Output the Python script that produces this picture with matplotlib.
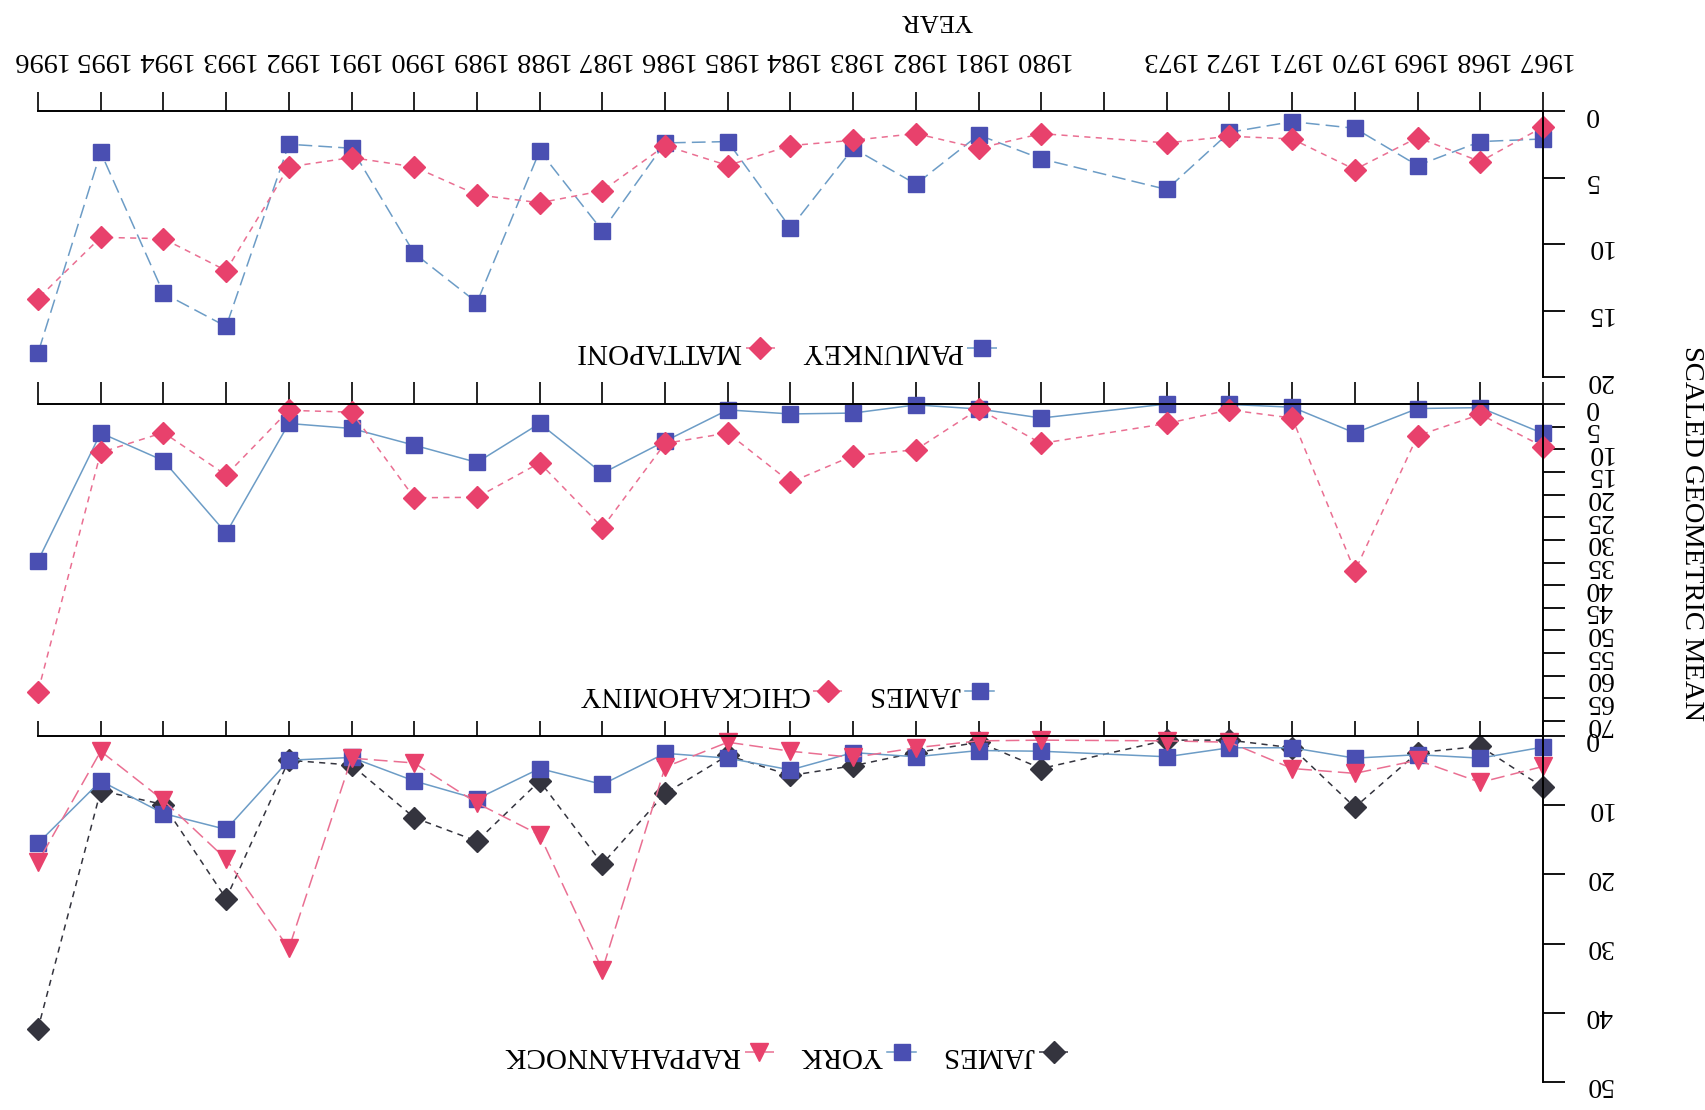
import matplotlib
matplotlib.use("Agg")
import matplotlib.pyplot as plt

plt.rcParams['font.family'] = ['Liberation Serif', 'DejaVu Serif']

# Axis slots: 1967-1973, one empty slot, then 1980-1996
year_slots = ['1967', '1968', '1969', '1970', '1971', '1972', '1973', '',
              '1980', '1981', '1982', '1983', '1984', '1985', '1986', '1987',
              '1988', '1989', '1990', '1991', '1992', '1993', '1994', '1995', '1996']

years = [1967, 1968, 1969, 1970, 1971, 1972, 1973,
         1980, 1981, 1982, 1983, 1984, 1985, 1986, 1987, 1988,
         1989, 1990, 1991, 1992, 1993, 1994, 1995, 1996]

# Panel 1
pamunkey = [2.1, 2.3, 4.1, 1.3, 0.8, 1.6, 5.9,
            3.6, 1.8, 5.5, 2.8, 8.8, 2.3, 2.4, 9.0, 3.0,
            14.4, 10.7, 2.8, 2.5, 16.2, 13.7, 3.1, 18.2]
mattaponi = [1.2, 3.8, 2.0, 4.4, 2.1, 1.9, 2.4,
             1.7, 2.8, 1.7, 2.2, 2.6, 4.1, 2.6, 6.0, 6.9,
             6.3, 4.2, 3.5, 4.2, 12.0, 9.6, 9.5, 14.1]

# Panel 2
james_upper = [6.5, 0.8, 1.0, 6.4, 0.7, 0.1, 0.0,
               3.1, 1.1, 0.2, 2.0, 2.2, 1.3, 8.2, 15.3, 4.3,
               12.9, 9.1, 5.4, 4.3, 28.5, 12.5, 6.4, 34.6]
chickahominy = [9.4, 2.3, 7.0, 36.9, 3.1, 1.3, 4.3,
                8.7, 1.1, 10.1, 11.4, 17.3, 6.4, 8.7, 27.3, 13.0,
                20.6, 20.7, 1.8, 1.4, 15.7, 6.3, 10.7, 63.5]

# Panel 3
james_lower = [7.4, 1.5, 2.4, 10.3, 1.7, 0.6, 0.6,
               4.7, 0.9, 2.4, 4.3, 5.7, 2.8, 8.3, 18.5, 6.5,
               15.2, 11.8, 4.2, 3.5, 23.5, 9.9, 7.9, 42.3]
york = [1.6, 3.2, 2.7, 3.2, 1.7, 1.7, 3.0,
        2.2, 2.1, 3.0, 2.4, 4.9, 3.2, 2.5, 7.0, 4.7,
        9.1, 6.5, 3.1, 3.5, 13.5, 11.2, 6.5, 15.5]
rappahannock = [4.4, 6.7, 3.5, 5.4, 4.7, 0.9, 0.7,
                0.6, 0.7, 1.7, 3.1, 2.2, 0.9, 4.5, 33.8, 14.3,
                9.7, 3.9, 3.2, 30.7, 17.8, 9.3, 2.2, 18.2]

BLUE_M = '#4a4fb2'
BLUE_L = '#6c9cc6'
PINK_M = '#e8416c'
PINK_L = '#ea6f92'
DARK = '#34343e'

W, H = 1706, 1110
fig = plt.figure(figsize=(W / 100, H / 100), dpi=100)


def frac(left, top, right, bottom):
    return [left / W, 1 - bottom / H, (right - left) / W, (bottom - top) / H]


xpos = [year_slots.index(str(y)) for y in years]

axes = [
    fig.add_axes(frac(38, 111, 1543, 377)),
    fig.add_axes(frac(38, 404, 1543, 736)),
    fig.add_axes(frac(38, 736, 1543, 1082)),
]

LONG = (0, (9, 4))
SHORT = (0, (4, 3.5))


def style_axis(ax, ymax, yticks, show_years, xtick_len):
    ax.set_xlim(len(year_slots) - 1, 0)
    ax.set_ylim(ymax, 0)
    for side in ('left', 'bottom'):
        ax.spines[side].set_visible(False)
    for side in ('right', 'top'):
        ax.spines[side].set_linewidth(1.4)
    ax.yaxis.tick_right()
    ax.xaxis.tick_top()
    ax.set_yticks(yticks)
    ax.set_yticklabels([str(v) for v in yticks], rotation=180)
    ax.set_xticks(range(len(year_slots)))
    if show_years:
        ax.set_xticklabels(year_slots, rotation=180, fontsize=20.5)
    else:
        ax.set_xticklabels([])
    ax.tick_params(axis='y', direction='out', length=16, width=1.3,
                   labelsize=20, pad=14)
    ax.tick_params(axis='x', direction='out', length=xtick_len, width=1.2,
                   pad=14)
    ax.patch.set_alpha(0)


def series(ax, vals, marker, mcolor, lcolor, ls, ms, label):
    return ax.plot(xpos, vals, linestyle=ls, color=lcolor, linewidth=1.1,
                   marker=marker, markersize=ms, markerfacecolor=mcolor,
                   markeredgecolor=mcolor, clip_on=False, label=label)[0]


def legend(ax, handles, y):
    leg = ax.legend(handles[::-1], [h.get_label() for h in handles[::-1]],
                    loc='center', bbox_to_anchor=(0.497, y),
                    ncol=len(handles), markerfirst=False, frameon=False,
                    fontsize=21, handlelength=1.0, handletextpad=0.15,
                    columnspacing=0.9)
    for t in leg.get_texts():
        t.set_rotation(180)


# Panel 1
ax = axes[0]
style_axis(ax, 20, [0, 5, 10, 15, 20], True, 14)
h1 = series(ax, pamunkey, 's', BLUE_M, BLUE_L, LONG, 11, 'PAMUNKEY')
h2 = series(ax, mattaponi, 'D', PINK_M, PINK_L, SHORT, 11.5, 'MATTAPONI')
legend(ax, [h1, h2], 0.098)
ax.set_xlabel('YEAR', fontsize=19, rotation=180)
ax.xaxis.set_label_position('top')
ax.xaxis.set_label_coords(0.597, 1.32)

# Panel 2
ax = axes[1]
style_axis(ax, 73.3, list(range(0, 75, 5)), False, 16)
h1 = series(ax, james_upper, 's', BLUE_M, BLUE_L, '-', 11, 'JAMES')
h2 = series(ax, chickahominy, 'D', PINK_M, PINK_L, SHORT, 11.5, 'CHICKAHOMINY')
legend(ax, [h1, h2], 0.127)

# Panel 3
ax = axes[2]
style_axis(ax, 50, [0, 10, 20, 30, 40, 50], False, 11)
h1 = series(ax, james_lower, 'D', DARK, DARK, SHORT, 11.5, 'JAMES')
h2 = series(ax, york, 's', BLUE_M, BLUE_L, '-', 11, 'YORK')
h3 = series(ax, rappahannock, 'v', PINK_M, PINK_L, LONG, 13, 'RAPPAHANNOCK')
legend(ax, [h1, h2, h3], 0.078)

fig.text(1692 / W, 1 - 533 / H, 'SCALED GEOMETRIC MEAN', rotation=270,
         fontsize=20.5, ha='center', va='center')

fig.savefig('out.png', dpi=100)
